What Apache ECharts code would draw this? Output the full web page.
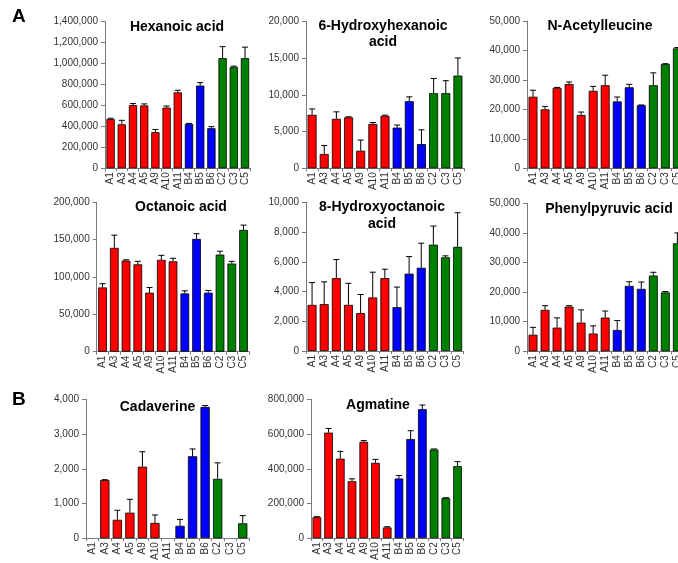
<!DOCTYPE html>
<html>
<head>
<meta charset="utf-8">
<script src="https://cdn.jsdelivr.net/npm/echarts@6/dist/echarts.min.js"></script>
<style>
html,body{margin:0;padding:0;background:#fff;overflow:hidden;width:678px;height:563px;}
#chart{width:700px;height:563px;}
</style>
</head>
<body>
<div id="chart"></div>
<script>
const categories = ['A1','A3','A4','A5','A9','A10','A11','B4','B5','B6','C2','C3','C5'];

const titles = ['Hexanoic acid', '6-Hydroxyhexanoic\nacid', 'N-Acetylleucine', 'Octanoic acid', '8-Hydroxyoctanoic\nacid', 'Phenylpyruvic acid', 'Cadaverine', 'Agmatine'];

const hexanoicMean = [470000, 420000, 603000, 600000, 345000, 580000, 725000, 425000, 790000, 383000, 1052000, 968000, 1052000];
const hexanoicErr = [8000, 38000, 15000, 15000, 25000, 15000, 20000, 4000, 28000, 15000, 110000, 8000, 105000];

const hydroxyhexMean = [7300, 1950, 6750, 6950, 2400, 6050, 7150, 5550, 9150, 3300, 10250, 10250, 12650];
const hydroxyhexErr = [800, 1150, 950, 80, 1450, 200, 100, 350, 600, 1950, 2000, 1700, 2400];

const acetylleucineMean = [24300, 20000, 27300, 28600, 18100, 26300, 28200, 22700, 27500, 21400, 28200, 35400, 40700];
const acetylleucineErr = [2200, 1000, 150, 700, 1000, 1500, 3400, 1500, 1000, 100, 4200, 100, 300];

const octanoicMean = [86000, 139000, 122000, 117000, 79000, 123000, 121000, 78000, 151000, 79000, 130000, 118000, 163000];
const octanoicErr = [5000, 17000, 1000, 4000, 7000, 6000, 4000, 3500, 7000, 3000, 4500, 3000, 6500];

const hydroxyoctMean = [3100, 3150, 4900, 3100, 2550, 3600, 4900, 2950, 5200, 5600, 7150, 6300, 7000];
const hydroxyoctErr = [1500, 1500, 1250, 1450, 1250, 1700, 600, 1350, 1150, 1650, 1250, 100, 2300];

const phenylpyruvicMean = [5600, 14000, 8000, 15100, 9700, 6000, 11400, 7200, 22100, 21100, 25600, 19900, 36500];
const phenylpyruvicErr = [2500, 1400, 3300, 300, 4300, 2600, 2200, 3200, 1400, 2300, 1100, 300, 3500];

const cadaverineMean = [0, 1675, 530, 735, 2060, 440, 0, 357, 2360, 3780, 1710, 0, 430];
const cadaverineErr = [0, 10, 275, 385, 430, 230, 0, 185, 210, 40, 460, 0, 220];

const agmatineMean = [121000, 608000, 458000, 328000, 555000, 434000, 62000, 344000, 571000, 743000, 511000, 231000, 415000];
const agmatineErr = [3000, 24000, 42000, 14000, 7000, 20000, 4000, 17000, 48000, 24000, 3000, 2000, 26000];

const yMax = [1400000, 20000, 50000, 200000, 10000, 50000, 4000, 800000];
const yInterval = [200000, 5000, 10000, 50000, 2000, 10000, 1000, 200000];

const panelLetters = ['A', 'B'];

const means = [hexanoicMean, hydroxyhexMean, acetylleucineMean, octanoicMean, hydroxyoctMean, phenylpyruvicMean, cadaverineMean, agmatineMean];
const errs = [hexanoicErr, hydroxyhexErr, acetylleucineErr, octanoicErr, hydroxyoctErr, phenylpyruvicErr, cadaverineErr, agmatineErr];

// layout (pixels)
const grids = [
  {left:105, top:21.7, width:145.6, height:146.6},
  {left:306, top:21.7, width:158, height:146.6},
  {left:527, top:21, width:156.4, height:147.3},
  {left:96.7, top:202.3, width:152.7, height:149.4},
  {left:306, top:202.3, width:157.7, height:148.7},
  {left:527, top:203.3, width:156.4, height:148},
  {left:86, top:399.3, width:163, height:145.7},
  {left:311, top:399.3, width:152.4, height:145.7}
];
const titlePos = [
  {x:177, top:19}, {x:383, top:17.5}, {x:600, top:18},
  {x:181, top:199}, {x:382, top:199}, {x:609, top:201},
  {x:157.5, top:399}, {x:378, top:397}
];

const groupColor = {A:'#ff0000', B:'#0000ff', C:'#008000'};
const FONT = '"Liberation Sans", Arial, sans-serif';

function fmt(v){ return Number(v).toLocaleString('en-US'); }

const option = {
  animation:false,
  backgroundColor:'#fff',
  title: titles.map((t,i)=>({
    text:t, left:titlePos[i].x, top:titlePos[i].top, textAlign:'center', padding:0,
    textStyle:{fontFamily:FONT, fontWeight:'bold', fontSize:14, color:'#000', lineHeight:16.5}
  })),
  grid: grids.map(g=>Object.assign({containLabel:false}, g)),
  xAxis: grids.map((g,i)=>({
    type:'category', gridIndex:i, data:categories,
    axisLine:{lineStyle:{color:'#7a7a7a', width:1}},
    axisTick:{show:true, length:3, lineStyle:{color:'#7a7a7a'}},
    axisLabel:{rotate:90, interval:0, margin:4, fontFamily:FONT, fontSize:10, color:'#333'}
  })),
  yAxis: grids.map((g,i)=>({
    type:'value', gridIndex:i, min:0, max:yMax[i], interval:yInterval[i],
    splitLine:{show:false},
    axisLine:{show:true, lineStyle:{color:'#7a7a7a', width:1}},
    axisTick:{show:true, length:4, lineStyle:{color:'#7a7a7a'}},
    axisLabel:{margin:7, fontFamily:FONT, fontSize:10, color:'#333', formatter:fmt}
  })),
  graphic: [
    {type:'text', left:12, top:7, style:{text:panelLetters[0], font:'bold 19px '+FONT, fill:'#000'}},
    {type:'text', left:12, top:390, style:{text:panelLetters[1], font:'bold 19px '+FONT, fill:'#000'}}
  ],
  series: []
};

means.forEach((m,i)=>{
  option.series.push({
    type:'bar', xAxisIndex:i, yAxisIndex:i, barCategoryGap:'26%',
    data: m.map((v,k)=>({value:v, itemStyle:{color:groupColor[categories[k][0]], borderColor:'#000', borderWidth: v ? 0.8 : 0}})),
    z:2
  });
  option.series.push({
    type:'custom', xAxisIndex:i, yAxisIndex:i, z:3,
    data: m.map((v,k)=>[k, v, errs[i][k]]),
    renderItem:function(params, api){
      const x = api.value(0), v = api.value(1), e = api.value(2);
      if (!e || !v) return null;
      const p0 = api.coord([x, v]);
      const p1 = api.coord([x, v+e]);
      const hw = 3;
      return {type:'group', children:[
        {type:'line', shape:{x1:p0[0], y1:p0[1], x2:p1[0], y2:p1[1]}, style:{stroke:'#000', lineWidth:1}},
        {type:'line', shape:{x1:p1[0]-hw, y1:p1[1], x2:p1[0]+hw, y2:p1[1]}, style:{stroke:'#000', lineWidth:1}}
      ]};
    }
  });
});

const chart = echarts.init(document.getElementById('chart'), null, {renderer:'canvas', width:700, height:563});
chart.setOption(option);
</script>
</body>
</html>
